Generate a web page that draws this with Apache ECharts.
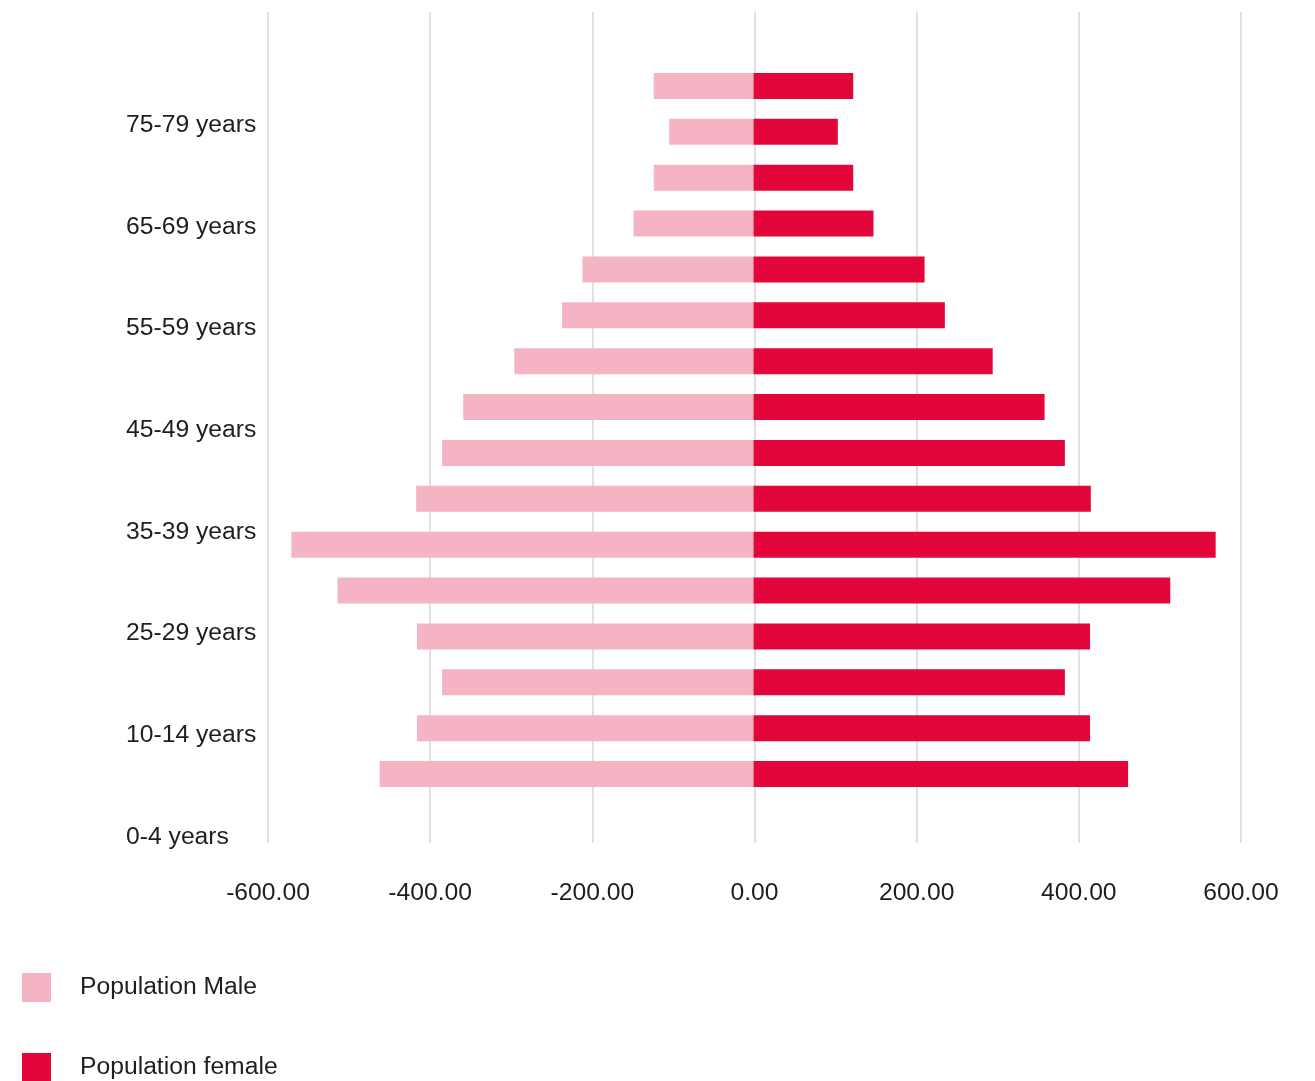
<!DOCTYPE html>
<html>
<head>
<meta charset="utf-8">
<script src="https://cdn.jsdelivr.net/npm/echarts@6/dist/echarts.min.js"></script>
<style>
html,body{margin:0;padding:0;background:#fff;}
#chart{width:1315px;height:1081px;}
</style>
</head>
<body>
<div id="chart"></div>
<script>
const ageGroups = ['0-4 years','5-9 years','10-14 years','15-19 years','20-24 years','25-29 years','30-34 years','35-39 years','40-44 years','45-49 years','50-54 years','55-59 years','60-64 years','65-69 years','70-74 years','75-79 years'];
const populationMale = [-461, -415, -384, -415, -513, -570, -416, -384, -358, -295, -236, -211, -148, -123, -104, -123];
const populationFemale = [462, 415, 384, 415, 514, 570, 416, 384, 359, 295, 236, 211, 148, 123, 104, 123];
const yTickLabels = ['0-4 years','10-14 years','25-29 years','35-39 years','45-49 years','55-59 years','65-69 years','75-79 years',''];
const xMin = -600, xMax = 600, xInterval = 200;
const seriesNames = ['Population Male','Population female'];

const FONT = '"Liberation Sans", Arial, Helvetica, sans-serif';
const FS = 24.7;
const TEXT = '#1e1e1e';
const MALE = '#F5B4C4';
const FEMALE = '#E3063B';

const legendBase = {
  orient: 'vertical', left: 22, padding: 0,
  itemWidth: 29, itemHeight: 29, icon: 'rect',
  textStyle: {fontSize: FS, color: TEXT, fontFamily: FONT, padding: [4,0,0,24]}
};

const chart = echarts.init(document.getElementById('chart'), null, {renderer:'canvas'});
chart.setOption({
  animation: false,
  backgroundColor: '#ffffff',
  textStyle: {fontFamily: FONT},
  grid: [
    {left: 268, right: 74, top: 12, height: 831},
    {left: 267, right: 75, top: 63, height: 734},
    {left: 268, right: 74, top: 23.4, height: 813.6}
  ],
  legend: [
    Object.assign({}, legendBase, {top: 973, data: [seriesNames[0]]}),
    Object.assign({}, legendBase, {top: 1053, data: [seriesNames[1]]})
  ],
  xAxis: [
    {
      gridIndex: 0, type: 'value', min: xMin, max: xMax, interval: xInterval,
      axisLine: {show: false}, axisTick: {show: false},
      splitLine: {show: true, lineStyle: {color: '#e1e1e1', width: 2}},
      axisLabel: {fontSize: FS, color: TEXT, fontFamily: FONT, margin: 38,
        formatter: v => v.toFixed(2)}
    },
    {gridIndex: 1, type: 'value', min: xMin, max: xMax, show: false},
    {gridIndex: 2, type: 'value', min: xMin, max: xMax, show: false}
  ],
  yAxis: [
    {gridIndex: 0, type: 'value', min: 0, max: 1, show: false},
    {gridIndex: 1, type: 'category', data: ageGroups, show: false},
    {
      gridIndex: 2, type: 'category', data: yTickLabels, boundaryGap: false,
      axisLine: {show: false}, axisTick: {show: false}, splitLine: {show: false},
      axisLabel: {interval: 0, align: 'left', margin: 142, fontSize: FS, color: TEXT, fontFamily: FONT}
    }
  ],
  series: [
    {
      name: seriesNames[0], type: 'bar', xAxisIndex: 1, yAxisIndex: 1,
      data: populationMale, barWidth: 26, barGap: '-100%',
      itemStyle: {color: MALE}
    },
    {
      name: seriesNames[1], type: 'bar', xAxisIndex: 1, yAxisIndex: 1,
      data: populationFemale, barWidth: 26, barGap: '-100%',
      itemStyle: {color: FEMALE}
    }
  ]
});
</script>
</body>
</html>
